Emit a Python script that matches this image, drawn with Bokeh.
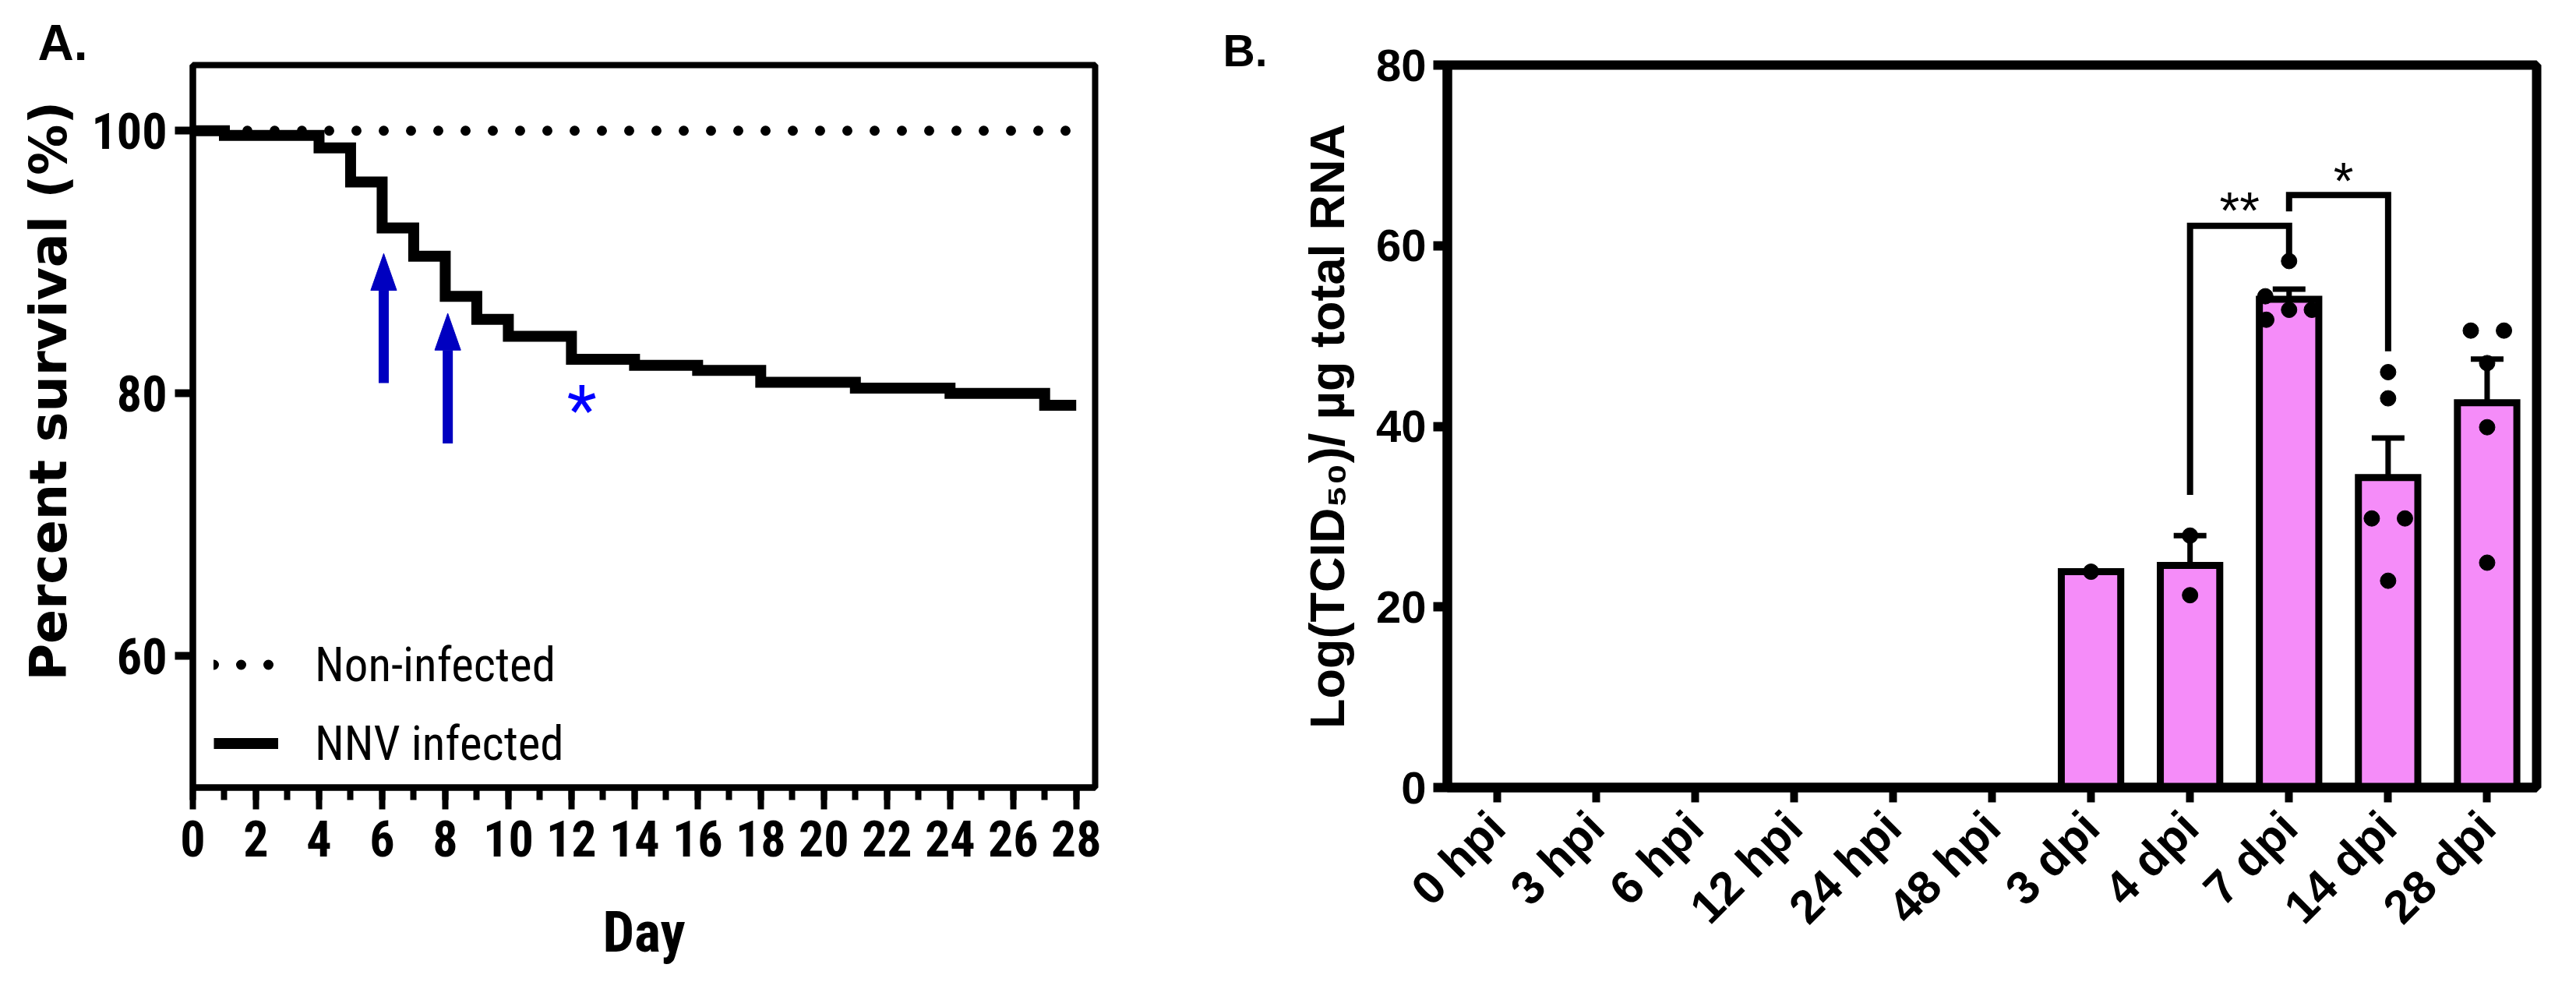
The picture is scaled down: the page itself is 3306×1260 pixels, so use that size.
import math
import numpy as np
from bokeh.plotting import figure
from bokeh.layouts import row
from bokeh.models import (Range1d, FixedTicker, Legend, LegendItem, Whisker,
                          TeeHead, ColumnDataSource)
from bokeh.embed import file_html
from bokeh.resources import INLINE
from bokeh.core.properties import value

# ---------------- Panel A data (Kaplan-Meier survival) ----------------
NNV_DAYS = [0, 1, 4, 5, 6, 7, 8, 9, 10, 12, 14, 16, 18, 21, 24, 27, 28]
NNV_SURVIVAL = [100, 99.65, 98.7, 96.1, 92.6, 90.45, 87.4, 85.65, 84.35,
                82.6, 82.15, 81.75, 80.85, 80.4, 80.0, 79.1, 79.1]
CONTROL_DAYS = [0, 28]
CONTROL_SURVIVAL = [100, 100]
A_XTICKS = list(range(0, 29, 2))
A_XMINOR = list(range(0, 29))
A_YTICKS = [60, 80, 100]
ARROW_DAYS = [6.05, 8.08]
ARROW_TIP = [90.65, 86.1]
ARROW_TAIL = [80.8, 76.2]
STAR_DAY = [12.33]
STAR_Y = [78.8]

# ---------------- Panel B data (viral titre) ----------------
CATEGORIES = ["0 hpi", "3 hpi", "6 hpi", "12 hpi", "24 hpi", "48 hpi",
              "3 dpi", "4 dpi", "7 dpi", "14 dpi", "28 dpi"]
REPLICATES = [[], [], [], [], [], [],
              [23.9],
              [27.9, 21.3],
              [58.3, 54.4, 52.9, 52.9, 51.8],
              [46.0, 43.1, 29.8, 29.8, 22.9],
              [50.6, 50.6, 47.0, 39.9, 24.9]]
JITTER = [[], [], [], [], [], [],
          [0.0],
          [0.0, 0.0],
          [0.0, -0.24, 0.0, 0.23, -0.23],
          [0.0, 0.0, -0.165, 0.17, 0.0],
          [-0.165, 0.17, 0.0, 0.0, 0.0]]
B_YTICKS = [0, 20, 40, 60, 80]
BRACKET_LEFT = [7, 8]
BRACKET_RIGHT = [8, 9]
BRACKET_LEFT_END = [32.4, 63.8]
BRACKET_TOP = [62.2, 65.6]
BRACKET_RIGHT_END = [59.0, 48.3]
BRACKET_TEXT = ["**", "*"]
BRACKET_TEXT_X = [7.5, 8.55]
BRACKET_TEXT_Y = [63.9, 67.2]

NARROW = "'Liberation Sans Narrow', 'Arial Narrow', 'Roboto Condensed', 'DejaVu Sans Condensed', sans-serif"
ARIAL = "'Liberation Sans', Arial, sans-serif"
WIDE = "'DejaVu Sans', sans-serif"
NBSP = "\u00a0"

H = 1244

# =============== Panel A ===============
pA = figure(width=1532, height=H, output_backend="svg", toolbar_location=None,
            x_range=Range1d(0, 28.6), y_range=Range1d(50, 105),
            min_border_left=247, min_border_right=127, min_border_top=83, min_border_bottom=233,
            background_fill_color="white", border_fill_color="white")
pA.grid.visible = False
pA.outline_line_color = "black"
pA.outline_line_width = 8
pA.outline_line_alpha = 1

r_ctrl = pA.line(CONTROL_DAYS, CONTROL_SURVIVAL, line_color="black", line_width=13,
                 line_dash="0 35", line_cap="round")
r_nnv = pA.step(NNV_DAYS, NNV_SURVIVAL, mode="after", line_color="black", line_width=14,
                line_join="miter")

# blue arrows
head_len = 2.8
head_half = 0.41
base = [t - head_len for t in ARROW_TIP]
pA.segment(x0=ARROW_DAYS, y0=ARROW_TAIL, x1=ARROW_DAYS, y1=base,
           line_color="#0000C0", line_width=13)
pA.patches(xs=[[x - head_half, x, x + head_half] for x in ARROW_DAYS],
           ys=[[b, t, b] for b, t in zip(base, ARROW_TIP)],
           fill_color="#0000C0", line_color="#0000C0", line_width=1)
pA.text(x=STAR_DAY, y=STAR_Y, text=["*"], text_color="#0000FF", text_font=value(NARROW),
        text_font_size="88px", text_align="center", text_baseline="alphabetic")

xa = pA.xaxis[0]
xa.ticker = FixedTicker(ticks=A_XTICKS, minor_ticks=A_XMINOR)
xa.axis_label = "Day"
ya = pA.yaxis[0]
ya.ticker = FixedTicker(ticks=A_YTICKS, minor_ticks=[])
ya.axis_label = NBSP * 4 + "Percent survival (%)"
for ax in (xa, ya):
    ax.axis_line_width = 8
    ax.axis_line_color = "black"
    ax.major_tick_line_width = 8
    ax.minor_tick_line_width = 8
    ax.major_tick_in = 0
    ax.minor_tick_in = 0
    ax.major_label_text_font = NARROW
    ax.major_label_text_font_style = "bold"
    ax.major_label_text_font_size = "64px"
    ax.major_label_text_color = "black"
    ax.axis_label_text_font_style = "bold"
    ax.axis_label_text_color = "black"
xa.major_tick_out = 28
xa.minor_tick_out = 16
xa.major_label_standoff = 14
xa.axis_label_text_font = NARROW
xa.axis_label_text_font_size = "72px"
xa.axis_label_standoff = 52
ya.major_tick_out = 23
ya.minor_tick_out = 0
ya.major_tick_line_width = 10
ya.major_label_standoff = 10
ya.axis_label_text_font = WIDE
ya.axis_label_text_font_size = "65px"
ya.axis_label_standoff = 14

pA.title.text = "A."
pA.title.align = "left"
pA.title.offset = -199
pA.title.standoff = -14
pA.title.text_font = ARIAL
pA.title.text_font_style = "bold"
pA.title.text_font_size = "64px"
pA.title.text_color = "black"

legend = Legend(items=[LegendItem(label="Non-infected", renderers=[r_ctrl]),
                       LegendItem(label="NNV infected", renderers=[r_nnv])],
                location=(27, 6), padding=0, margin=0, spacing=0,
                glyph_width=83, glyph_height=101, label_height=101, label_standoff=47,
                label_text_font=NARROW, label_text_font_size="61px",
                label_text_color="black",
                border_line_alpha=0, background_fill_alpha=0)
pA.add_layout(legend)

# =============== Panel B ===============
pB = figure(width=1758, height=H, output_backend="svg", toolbar_location=None,
            x_range=Range1d(-0.5, 10.5), y_range=Range1d(0, 80),
            min_border_left=325, min_border_right=35, min_border_top=76, min_border_bottom=234,
            background_fill_color="white", border_fill_color="white")
pB.grid.visible = False
pB.outline_line_color = "black"
pB.outline_line_width = 12
pB.outline_line_alpha = 1

idx = [i for i, v in enumerate(REPLICATES) if len(v) > 0]
means = [float(np.mean(REPLICATES[i])) for i in idx]
pB.vbar(x=idx, top=means, bottom=0, width=0.6, fill_color="#F58CF9",
        line_color="black", line_width=9, line_join="miter")

eidx = [i for i in idx if len(REPLICATES[i]) > 1]
emean = [float(np.mean(REPLICATES[i])) for i in eidx]
esem = [float(np.std(REPLICATES[i], ddof=1) / math.sqrt(len(REPLICATES[i]))) for i in eidx]
esrc = ColumnDataSource(dict(x=eidx, upper=[m + s for m, s in zip(emean, esem)],
                             lower=[m - s for m, s in zip(emean, esem)]))
pB.add_layout(Whisker(source=esrc, base="x", upper="upper", lower="lower",
                      line_width=7, line_color="black",
                      upper_head=TeeHead(size=42, line_width=7, line_color="black"),
                      lower_head=TeeHead(size=42, line_width=7, line_color="black")))

px, py = [], []
for i in idx:
    for v, j in zip(REPLICATES[i], JITTER[i]):
        px.append(i + j)
        py.append(v)
pB.scatter(px, py, size=20, color="black")

pB.multi_line(xs=[[l, l, r, r] for l, r in zip(BRACKET_LEFT, BRACKET_RIGHT)],
              ys=[[a, t, t, b] for a, t, b in zip(BRACKET_LEFT_END, BRACKET_TOP, BRACKET_RIGHT_END)],
              line_color="black", line_width=8, line_join="miter")
pB.text(x=BRACKET_TEXT_X, y=BRACKET_TEXT_Y, text=BRACKET_TEXT, text_font=value(ARIAL),
        text_font_size="66px", text_align="center", text_baseline="alphabetic",
        text_color="black")

xb = pB.xaxis[0]
xb.ticker = FixedTicker(ticks=list(range(len(CATEGORIES))), minor_ticks=[])
xb.major_label_overrides = {i: c for i, c in enumerate(CATEGORIES)}
xb.major_label_orientation = math.pi / 4
yb = pB.yaxis[0]
yb.ticker = FixedTicker(ticks=B_YTICKS, minor_ticks=[])
yb.axis_label = "Log(TCID\u2085\u2080)/ \u00b5g total RNA"
yb.axis_label_text_font = ARIAL
yb.axis_label_text_font_style = "bold"
yb.axis_label_text_font_size = "63px"
yb.axis_label_text_color = "black"
yb.axis_label_standoff = 25
for ax in (xb, yb):
    ax.axis_line_width = 12
    ax.axis_line_color = "black"
    ax.major_tick_line_width = 12
    ax.major_tick_in = 0
    ax.major_tick_out = 18
    ax.minor_tick_out = 0
    ax.major_label_text_font = ARIAL
    ax.major_label_text_font_style = "bold"
    ax.major_label_text_color = "black"
xb.major_label_text_font_size = "60px"
yb.major_label_text_font_size = "58px"
xb.major_tick_line_width = 10
xb.major_tick_out = 19
xb.major_label_standoff = 22
yb.major_label_standoff = 9

pB.title.text = "B."
pB.title.align = "left"
pB.title.offset = -288
pB.title.standoff = -26
pB.title.text_font = ARIAL
pB.title.text_font_style = "bold"
pB.title.text_font_size = "57px"
pB.title.text_color = "black"

layout = row(pA, pB)
open("out.html", "w").write(file_html(layout, INLINE))
